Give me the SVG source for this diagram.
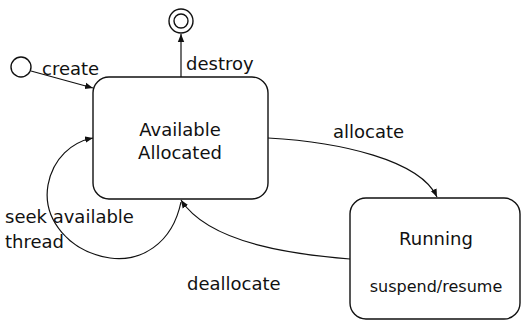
<svg xmlns="http://www.w3.org/2000/svg" width="522" height="321" viewBox="0 0 522 321">
<style>
.n{fill:#fff;stroke:#111;stroke-width:1.4}
.c{fill:none;stroke:#111;stroke-width:1.2}
text{font-family:"DejaVu Sans",sans-serif;font-size:18px;fill:#111}
.m{text-anchor:middle}
</style>
<defs>
<marker id="a" viewBox="0 0 10 10" refX="10" refY="5" markerWidth="8" markerHeight="8" markerUnits="userSpaceOnUse" orient="auto">
<path d="M0,1 L10,5 L0,9 z" fill="#111"/>
</marker>
</defs>
<g id="initial"><circle class="n" cx="21" cy="67" r="10"/></g>
<g id="final"><circle class="n" cx="181" cy="21" r="12"/><circle class="n" cx="181" cy="21" r="7"/></g>
<g id="available">
<rect class="n" x="93" y="77" width="175" height="122" rx="16"/>
<text class="m" x="180" y="136">Available</text>
<text class="m" x="180" y="159">Allocated</text>
</g>
<g id="running">
<rect class="n" x="350" y="198" width="170" height="121" rx="16"/>
<text class="m" x="436" y="245">Running</text>
<text class="m" x="436" y="292" style="font-size:16px">suspend/resume</text>
</g>
<g id="connectors">
<path class="c" d="M31,71 L93,88" marker-end="url(#a)"/>
<path class="c" d="M181,77 L181,34" marker-end="url(#a)"/>
<path class="c" d="M268,138 C340,142 420,160 437,197" marker-end="url(#a)"/>
<path class="c" d="M350,259 C300,255 210,245 181,200" marker-end="url(#a)"/>
<path class="c" d="M181,202 C172,245 140,262 110,258 C70,252 42,220 48,185 C53,158 72,142 93,138" marker-end="url(#a)"/>
</g>
<g id="labels">
<text x="42" y="75">create</text>
<text x="186" y="70">destroy</text>
<text x="333" y="138">allocate</text>
<text x="187" y="290">deallocate</text>
<text x="5" y="223">seek available</text>
<text x="5" y="248">thread</text>
</g>
</svg>
